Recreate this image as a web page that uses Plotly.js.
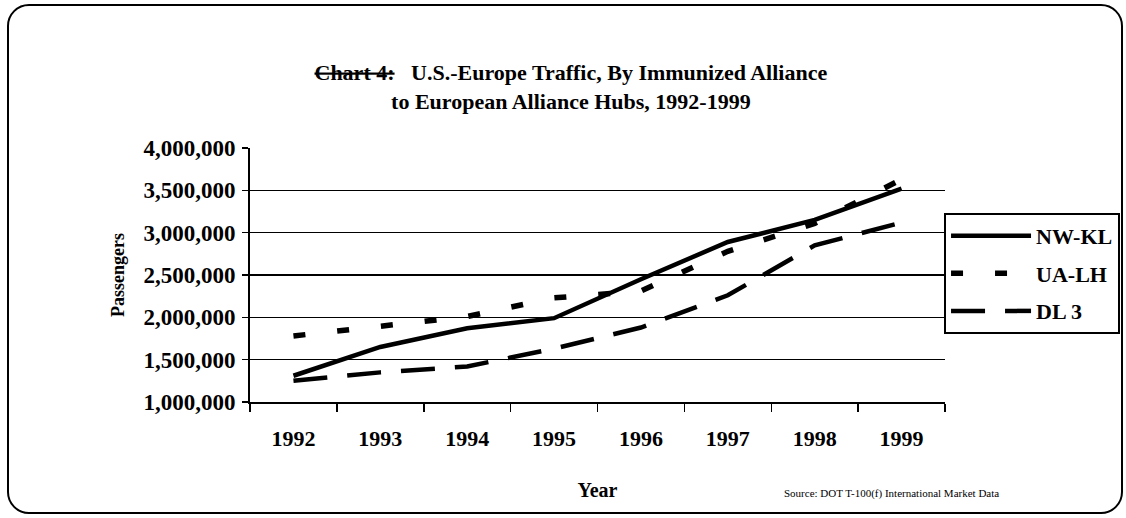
<!DOCTYPE html>
<html>
<head>
<meta charset="utf-8">
<script src="https://cdn.plot.ly/plotly-3.0.1.min.js"></script>
<style>
  html, body { margin: 0; padding: 0; background: #fff; }
  #wrap { position: relative; width: 1126px; height: 518px; }
  #chart { width: 1126px; height: 518px; }
  #frame { position: absolute; left: 7px; top: 4px; width: 1112px; height: 506px;
           border: 2px solid #000; border-radius: 22px; pointer-events: none; }
</style>
</head>
<body>
<div id="wrap">
  <div id="chart"></div>
  <div id="frame"></div>
</div>
<script>
const years = ["1992", "1993", "1994", "1995", "1996", "1997", "1998", "1999"];
const nwkl = [1310000, 1650000, 1870000, 1990000, 2450000, 2890000, 3150000, 3520000];
const ualh = [1780000, 1890000, 2010000, 2230000, 2310000, 2780000, 3110000, 3630000];
const dl3  = [1250000, 1350000, 1420000, 1630000, 1880000, 2260000, 2850000, 3120000];
const yTicks = [1000000, 1500000, 2000000, 2500000, 3000000, 3500000, 4000000];
const yTickText = ["1,000,000", "1,500,000", "2,000,000", "2,500,000", "3,000,000", "3,500,000", "4,000,000"];

const FONT = "'Liberation Serif', 'Times New Roman', serif";

const traces = [
  { x: years, y: nwkl, name: "NW-KL", mode: "lines", legendgroup: "a",
    line: { color: "#000", width: 4.5 } },
  { x: years, y: ualh, name: "UA-LH", mode: "lines", legendgroup: "b",
    line: { color: "#000", width: 5.5, dash: "12px,32px" } },
  { x: years, y: dl3, name: "DL 3", mode: "lines", legendgroup: "c",
    line: { color: "#000", width: 4.5, dash: "34px,20px" } }
];

const layout = {
  width: 1126, height: 518,
  margin: { l: 250, r: 181, t: 148, b: 116, autoexpand: false },
  paper_bgcolor: "#fff", plot_bgcolor: "#fff",
  font: { family: FONT, color: "#000" },
  showlegend: true,
  title: {
    text: "<b><s>Chart 4:</s>   U.S.-Europe Traffic, By Immunized Alliance<br>to European Alliance Hubs, 1992-1999</b>",
    font: { family: FONT, size: 22, color: "#000" },
    x: 0.507, xref: "container", xanchor: "center",
    y: 0.845, yref: "container", yanchor: "top"
  },
  xaxis: {
    type: "category",
    range: [-0.5, 7.5],
    tickson: "boundaries",
    ticks: "outside", ticklen: 8, tickwidth: 1.5, tickcolor: "#000",
    showline: true, linecolor: "#000", linewidth: 2,
    showgrid: false, zeroline: false,
    tickfont: { family: FONT, size: 22, color: "#000", weight: "bold" },
    ticklabelstandoff: 16,
    title: { text: "<b>Year</b>", font: { family: FONT, size: 20, color: "#000" }, standoff: 33 }
  },
  yaxis: {
    range: [1000000, 4000000],
    tickvals: yTicks, ticktext: yTickText,
    ticks: "outside", ticklen: 6, tickwidth: 1.5, tickcolor: "#000",
    showline: true, linecolor: "#000", linewidth: 2,
    showgrid: true, gridcolor: "#000", gridwidth: 1.5,
    zeroline: false,
    tickfont: { family: FONT, size: 23, color: "#000", weight: "bold" },
    ticklabelstandoff: 2,
    title: { text: "<b>Passengers</b>", font: { family: FONT, size: 18, color: "#000" }, standoff: 14 }
  },
  legend: {
    xref: "container", yref: "container",
    x: 0.8384, xanchor: "left", y: 0.589, yanchor: "top",
    bgcolor: "#fff", bordercolor: "#000", borderwidth: 2,
    font: { family: FONT, size: 22, color: "#000", weight: "bold" },
    itemwidth: 80, tracegroupgap: 6, traceorder: "grouped"
  },
  annotations: [
    { text: "Source: DOT T-100(f) International Market Data", xref: "paper", yref: "paper",
      x: 1.08, xanchor: "right", y: -0.36, yanchor: "middle", showarrow: false,
      font: { family: FONT, size: 11, color: "#000" } }
  ]
};

Plotly.newPlot("chart", traces, layout, { displayModeBar: false, staticPlot: true });
</script>
</body>
</html>
